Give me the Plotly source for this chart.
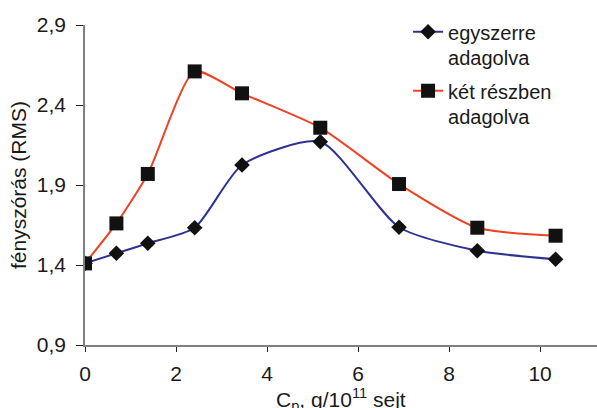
import plotly.graph_objects as go

# Data
x_vals = [0, 0.69, 1.38, 2.41, 3.45, 5.17, 6.90, 8.62, 10.34]
egyszerre = [1.41, 1.473, 1.536, 1.633, 2.025, 2.17, 1.636, 1.489, 1.436]
ket_reszben = [1.41, 1.66, 1.969, 2.61, 2.473, 2.258, 1.906, 1.633, 1.583]
series_names = ["egyszerre<br>adagolva", "két részben<br>adagolva"]
y_ticks = [0.9, 1.4, 1.9, 2.4, 2.9]
x_ticks = [0, 2, 4, 6, 8, 10]
x_title = "C<sub>p</sub>, g/10<sup>11</sup> sejt"
y_title = "fényszórás (RMS)"

FONT = "Liberation Sans, Arial, sans-serif"

fig = go.Figure()
fig.add_trace(go.Scatter(
    x=x_vals, y=egyszerre, name=series_names[0], legendgroup="a",
    mode="lines+markers",
    line=dict(color="#2E3192", width=2, shape="spline", smoothing=0.65),
    marker=dict(symbol="diamond", size=12, color="#111111"),
))
fig.add_trace(go.Scatter(
    x=x_vals, y=ket_reszben, name=series_names[1], legendgroup="b",
    mode="lines+markers",
    line=dict(color="#EF4123", width=2, shape="spline", smoothing=0.6),
    marker=dict(symbol="square", size=14, color="#111111"),
))

fig.update_layout(
    width=597, height=408,
    margin=dict(l=85, r=0, t=25, b=63, autoexpand=False),
    paper_bgcolor="white", plot_bgcolor="white",
    separators=", ",
    font=dict(family=FONT, size=21, color="#1a1a1a"),
    showlegend=True,
    legend=dict(
        x=0.631, y=1.04, xanchor="left", yanchor="top",
        bgcolor="rgba(0,0,0,0)", font=dict(size=20),
        valign="top", tracegroupgap=4,
    ),
    xaxis=dict(
        range=[0, 11.25], tickvals=x_ticks, ticktext=[str(v) for v in x_ticks],
        showline=True, linecolor="#808080", linewidth=1.5,
        ticks="outside", ticklen=5, tickcolor="#222222", tickwidth=1,
        showgrid=False, zeroline=False, automargin=False,
        ticklabelstandoff=4,
    ),
    yaxis=dict(
        range=[0.9, 2.9], tickvals=y_ticks, tickformat=".1f",
        showline=True, linecolor="#808080", linewidth=1.5,
        ticks="outside", ticklen=7, tickcolor="#222222", tickwidth=1,
        showgrid=False, zeroline=False, automargin=False,
        ticklabelstandoff=6,
        title=dict(text=y_title, standoff=4, font=dict(size=21)),
    ),
    annotations=[dict(
        text=x_title, xref="paper", yref="paper", x=0.5, y=0,
        xanchor="center", yanchor="middle", yshift=-54, showarrow=False,
        font=dict(size=21),
    )],
)

fig.write_html("out.html")
